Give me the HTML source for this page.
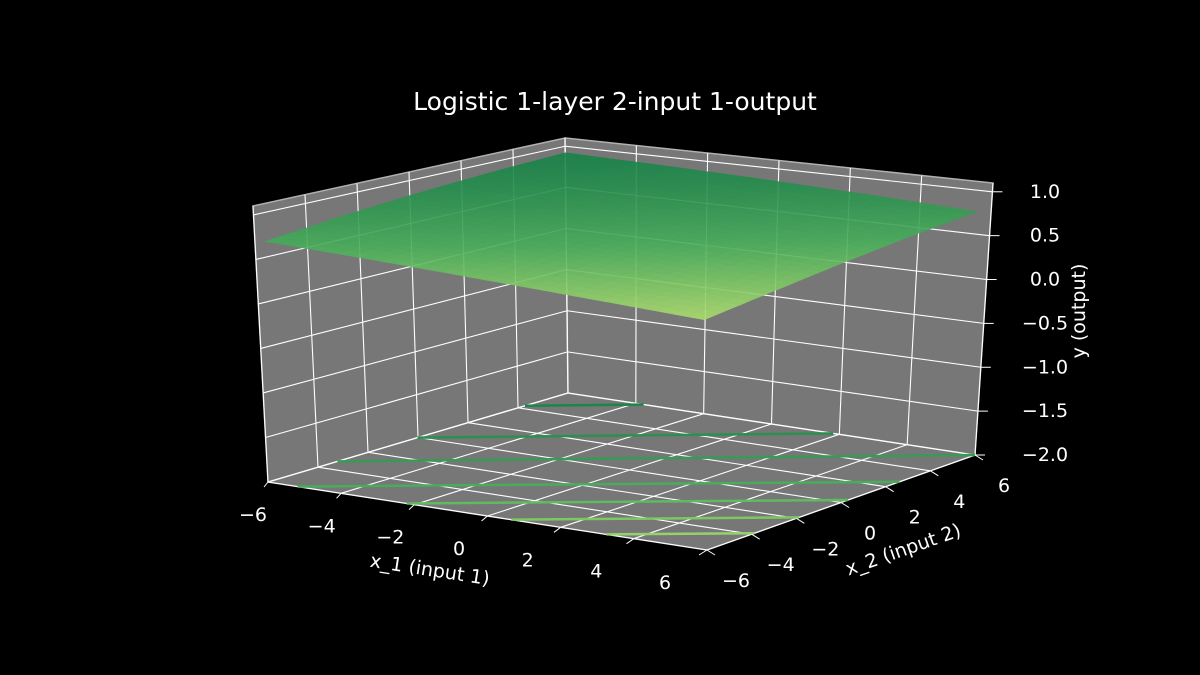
<!DOCTYPE html>
<html><head><meta charset="utf-8"><style>
html,body{margin:0;padding:0;background:#000;}
svg{display:block;font-family:"DejaVu Sans","Liberation Sans",sans-serif;}
</style></head><body>
<svg id="chart" width="1200" height="675" viewBox="0 0 1200 675" xmlns="http://www.w3.org/2000/svg">
<rect width="1200" height="675" fill="#000"/>
<text x="615" y="110" fill="#fff" font-size="25" text-anchor="middle">Logistic 1-layer 2-input 1-output</text>
<g id="panes"></g><g id="grid"></g><g id="contours"></g><g id="surface" opacity="0.9"></g><g id="ticks"></g>
<text x="430" y="576" fill="#fff" font-size="19" text-anchor="middle" transform="rotate(8.8 430 569)">x_1 (input 1)</text>
<text x="903" y="556" fill="#fff" font-size="19" text-anchor="middle" transform="rotate(-19.4 903 549)">x_2 (input 2)</text>
<text x="1092" y="318" fill="#fff" font-size="19" text-anchor="middle" transform="rotate(-90 1085 318)">y (output)</text>
</svg>
<script>
// ---- data ----
const x1Ticks = [-6,-4,-2,0,2,4,6];
const x2Ticks = [-6,-4,-2,0,2,4,6];
const zTicks = [-2.0,-1.5,-1.0,-0.5,0.0,0.5,1.0];
const zTickLabels = ["\u22122.0","\u22121.5","\u22121.0","\u22120.5","0.0","0.5","1.0"];
const gridX1 = [-6,-3.1,-0.2,2.7,5.6];
const gridX2 = [-5.6,-2.7,0.2,3.1,6];
const surfaceZ = [
  [0.676,0.761,0.830,0.882,0.920],
  [0.600,0.697,0.779,0.843,0.892],
  [0.519,0.623,0.717,0.795,0.856],
  [0.438,0.544,0.646,0.737,0.811],
  [0.359,0.462,0.568,0.668,0.755]
];
const contourLevels = [0.90,0.83,0.76,0.66,0.58,0.50,0.43];
const contourX1a = [-6,-6,-6,-5.19,-2.21,0.65,3.25];
const contourX2a = [4.28,-0.02,-3.22,-6,-6,-6,-6];
const contourX1b = [-3.77,1.82,6,6,6,6,6];
const contourX2b = [6,6,6,2.62,0.32,-1.88,-3.88];
const contourOffset = -2.0;

// ---- projection (box corners, trilinear) ----
const ZMIN=-2.0, ZMAX=1.1;
const C000=[268,482], C100=[707,550], C010=[568,393], C110=[975,455];
const C001=[253,206], C101=[711,253], C011=[565,138], C111=[993,183];
function P(x1,x2,z){
  const u=(x1+6)/12, v=(x2+6)/12, w=(z-ZMIN)/(ZMAX-ZMIN);
  const r=[0,0];
  for(let i=0;i<2;i++){
    const b=(1-u)*(1-v)*C000[i]+u*(1-v)*C100[i]+(1-u)*v*C010[i]+u*v*C110[i];
    const t=(1-u)*(1-v)*C001[i]+u*(1-v)*C101[i]+(1-u)*v*C011[i]+u*v*C111[i];
    r[i]=b+(t-b)*w;
  }
  return r;
}
const NS="http://www.w3.org/2000/svg";
function mk(tag,attrs,parent){const e=document.createElementNS(NS,tag);for(const k in attrs)e.setAttribute(k,attrs[k]);parent.appendChild(e);return e;}
function pts(a){return a.map(p=>p[0].toFixed(1)+","+p[1].toFixed(1)).join(" ");}
function cmap(z){
  const t=Math.max(0,Math.min(1,(z-0.36)/0.56));
  const s=[[173,221,110],[76,176,92],[24,130,72]];
  let a,b,f; if(t<0.5){a=s[0];b=s[1];f=t/0.5;}else{a=s[1];b=s[2];f=(t-0.5)/0.5;}
  return "rgb("+a.map((c,i)=>Math.round(c+(b[i]-c)*f)).join(",")+")";
}
const panes=document.getElementById('panes'), grid=document.getElementById('grid');
const paneDefs=[
  ['floor-pane',[P(-6,-6,ZMIN),P(6,-6,ZMIN),P(6,6,ZMIN),P(-6,6,ZMIN)]],
  ['left-wall-pane',[P(-6,-6,ZMIN),P(-6,6,ZMIN),P(-6,6,ZMAX),P(-6,-6,ZMAX)]],
  ['back-wall-pane',[P(-6,6,ZMIN),P(6,6,ZMIN),P(6,6,ZMAX),P(-6,6,ZMAX)]]
];
paneDefs.forEach(d=>{
  const e=mk('polygon',{points:pts(d[1]),fill:'#777','stroke':'#b0b0b0','stroke-width':1.5},panes);
  
  
});
function gl(a,b,name){
  const e=mk('line',{x1:a[0],y1:a[1],x2:b[0],y2:b[1],stroke:'#fff','stroke-width':1.1},grid);
  
  
}
x1Ticks.forEach(x=>{gl(P(x,-6,ZMIN),P(x,6,ZMIN),'x1-gridline-floor');gl(P(x,6,ZMIN),P(x,6,ZMAX),'x1-gridline-wall');});
x2Ticks.forEach(y=>{gl(P(-6,y,ZMIN),P(6,y,ZMIN),'x2-gridline-floor');gl(P(-6,y,ZMIN),P(-6,y,ZMAX),'x2-gridline-wall');});
zTicks.forEach(z=>{gl(P(-6,-6,z),P(-6,6,z),'z-gridline-left');gl(P(-6,6,z),P(6,6,z),'z-gridline-back');});

// contours
const cg=document.getElementById('contours');
contourLevels.forEach((lv,i)=>{
  const a=P(contourX1a[i],contourX2a[i],contourOffset), b=P(contourX1b[i],contourX2b[i],contourOffset);
  const e=mk('line',{x1:a[0],y1:a[1],x2:b[0],y2:b[1],stroke:cmap(lv),'stroke-width':2.5},cg);
  
  
});

// surface
const sg=document.getElementById('surface');
function zAt(x1,x2){
  const fi=(x1-gridX1[0])/(gridX1[1]-gridX1[0]), fj=(x2-gridX2[0])/(gridX2[1]-gridX2[0]);
  const i=Math.max(0,Math.min(gridX1.length-2,Math.floor(fi))), j=Math.max(0,Math.min(gridX2.length-2,Math.floor(fj)));
  const a=fi-i,b=fj-j;
  return (1-a)*(1-b)*surfaceZ[i][j]+a*(1-b)*surfaceZ[i+1][j]+(1-a)*b*surfaceZ[i][j+1]+a*b*surfaceZ[i+1][j+1];
}
const N=30;
const xs0=gridX1[0], xs1=gridX1[gridX1.length-1], ys0=gridX2[0], ys1=gridX2[gridX2.length-1];
for(let i=0;i<N;i++)for(let j=0;j<N;j++){
  const xa=xs0+(xs1-xs0)*i/N, xb=xs0+(xs1-xs0)*(i+1)/N, ya=ys0+(ys1-ys0)*j/N, yb=ys0+(ys1-ys0)*(j+1)/N;
  const q=[P(xa,ya,zAt(xa,ya)),P(xb,ya,zAt(xb,ya)),P(xb,yb,zAt(xb,yb)),P(xa,yb,zAt(xa,yb))];
  const c=cmap(zAt((xa+xb)/2,(ya+yb)/2));
  const e=mk('polygon',{points:pts(q),fill:c,stroke:c,'stroke-width':0.6},sg);
  
  
}

// ticks & labels
const tg=document.getElementById('ticks');
function tl(x,y,s,name){
  const e=mk('text',{x:x,y:y,fill:'#fff','font-size':19,'text-anchor':'middle','dominant-baseline':'central'},tg);
  e.textContent=s;
  
  
}
function tk(a,dx,dy){mk('line',{x1:a[0],y1:a[1],x2:a[0]+dx,y2:a[1]+dy,stroke:'#fff','stroke-width':1},tg);}
function lab(v){return v<0?"\u2212"+Math.abs(v):String(v);}
x1Ticks.forEach(x=>{
  const p=P(x,-6,ZMIN), u=(x+6)/12;
  tk(p,-4-4*u,5);
  tl(p[0]-15-27*u,p[1]+33,lab(x),'x1-tick-label');
});
x2Ticks.forEach(y=>{
  const p=P(6,y,ZMIN);
  tk(p,8,5);
  tl(p[0]+29,p[1]+31,lab(y),'x2-tick-label');
});
zTicks.forEach((z,i)=>{
  const p=P(6,6,z);
  tk(p,10,0);
  tl(1045,p[1],zTickLabels[i],'z-tick-label');
});
</script>
</body></html>
